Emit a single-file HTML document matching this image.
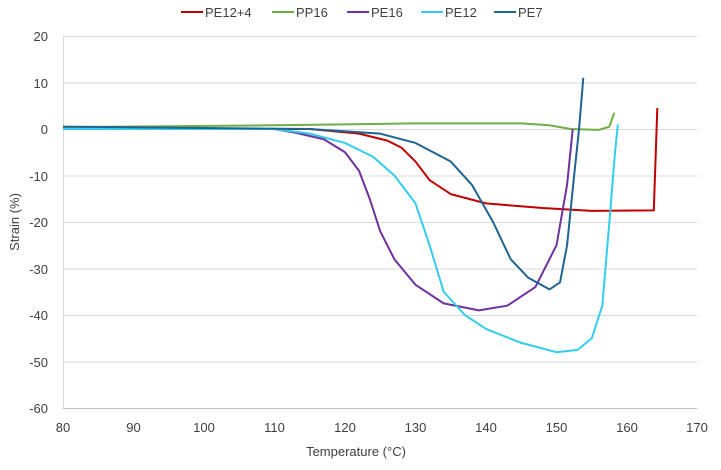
<!DOCTYPE html><html><head><style>body{margin:0;background:#fff}</style></head><body>
<svg width="721" height="465" xmlns="http://www.w3.org/2000/svg" font-family="Liberation Sans, sans-serif" font-size="13" fill="#404040">
<g stroke="#d9d9d9" stroke-width="1">
<line x1="63" x2="697" y1="36.5" y2="36.5"/><line x1="63" x2="697" y1="83" y2="83"/><line x1="63" x2="697" y1="129.5" y2="129.5"/><line x1="63" x2="697" y1="176" y2="176"/><line x1="63" x2="697" y1="222.5" y2="222.5"/><line x1="63" x2="697" y1="269" y2="269"/><line x1="63" x2="697" y1="315.5" y2="315.5"/><line x1="63" x2="697" y1="362" y2="362"/>
<line x1="63.5" x2="63.5" y1="36" y2="408"/>
</g>
<line x1="63" x2="697" y1="408.5" y2="408.5" stroke="#bfbfbf"/>
<g text-anchor="end"><text x="48" y="41">20</text><text x="48" y="88">10</text><text x="48" y="134">0</text><text x="48" y="181">-10</text><text x="48" y="227">-20</text><text x="48" y="274">-30</text><text x="48" y="320">-40</text><text x="48" y="367">-50</text><text x="48" y="413">-60</text></g>
<g text-anchor="middle"><text x="63" y="432">80</text><text x="133.5" y="432">90</text><text x="204" y="432">100</text><text x="274.5" y="432">110</text><text x="345" y="432">120</text><text x="415.5" y="432">130</text><text x="486" y="432">140</text><text x="556.5" y="432">150</text><text x="627" y="432">160</text><text x="697" y="432">170</text>
<text x="356" y="456">Temperature (°C)</text>
<text transform="translate(19,222) rotate(-90)">Strain (%)</text></g>
<g fill="none" stroke-width="2" stroke-linejoin="round" transform="translate(63,129) scale(7.05,-4.65)">
<polyline vector-effect="non-scaling-stroke" stroke="#c00000" points="0,0 35,0 42,-1 46,-2.5 48,-4 50,-7 52,-11 55,-14 60,-16 68,-17 75,-17.6 83.8,-17.5 84.3,4.5"/>
<polyline vector-effect="non-scaling-stroke" stroke="#70ad47" points="0,0.4 30,0.8 50,1.2 65,1.2 69,0.8 72,0 76,-0.2 77.5,0.5 78.2,3.5"/>
<polyline vector-effect="non-scaling-stroke" stroke="#7030a0" points="0,0 30,0 33,-0.8 37,-2.2 40,-5 42,-9 43.5,-15 45,-22 47,-28 50,-33.5 54,-37.5 59,-39 63,-38 67,-34 70,-25 71.5,-12 72.3,0"/>
<polyline vector-effect="non-scaling-stroke" stroke="#33ccee" points="0,0 30,0 35,-1 40,-3 44,-6 47,-10 50,-16 52,-25 54,-35 57,-40 60,-43 65,-46 70,-48 73,-47.5 75,-45 76.5,-38 77.5,-20 78.3,-5 78.7,1"/>
<polyline vector-effect="non-scaling-stroke" stroke="#1f6391" points="0,0.5 35,0 45,-1 50,-3 55,-7 58,-12 61,-20 63.5,-28 66,-32 69,-34.5 70.5,-33 71.5,-25 72.5,-10 73.2,0 73.8,11"/>
</g>
<g stroke-width="2"><line x1="181" x2="203" y1="12" y2="12" stroke="#c00000"/><line x1="272" x2="294" y1="12" y2="12" stroke="#70ad47"/><line x1="347" x2="369" y1="12" y2="12" stroke="#7030a0"/><line x1="421" x2="443" y1="12" y2="12" stroke="#33ccee"/><line x1="494" x2="516" y1="12" y2="12" stroke="#1f6391"/></g>
<text x="205" y="17">PE12+4</text><text x="296" y="17">PP16</text><text x="371" y="17">PE16</text><text x="445" y="17">PE12</text><text x="518" y="17">PE7</text>
</svg></body></html>
